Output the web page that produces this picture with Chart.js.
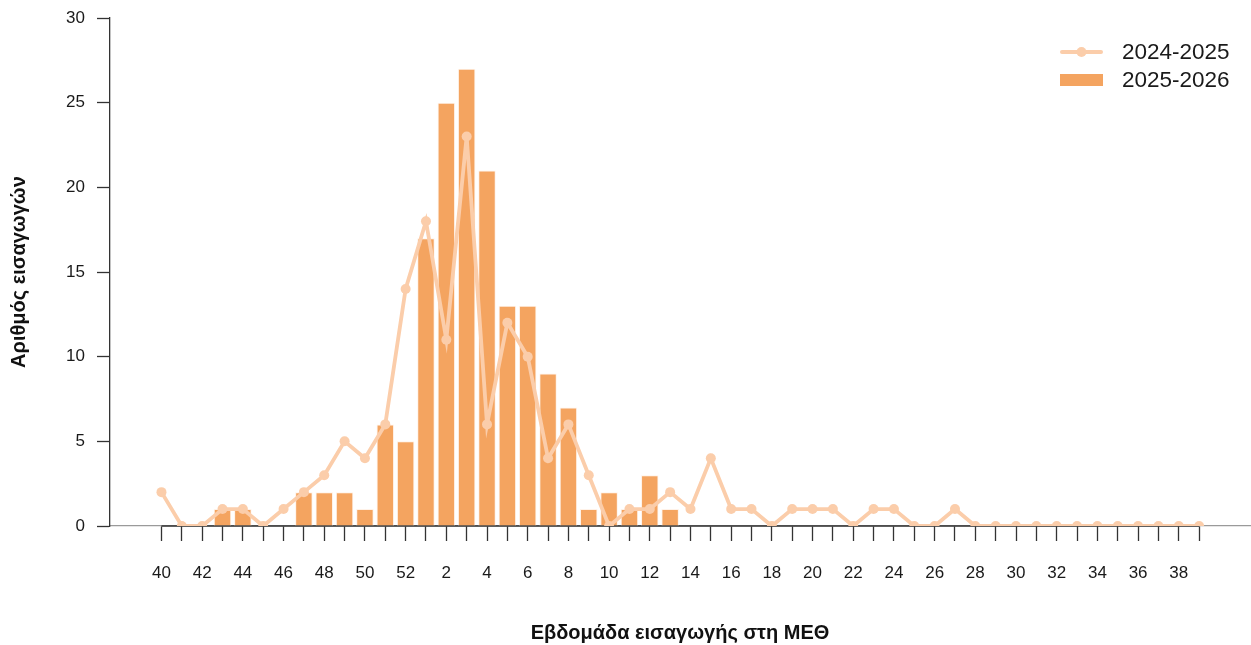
<!DOCTYPE html>
<html>
<head>
<meta charset="utf-8">
<script src="https://cdn.jsdelivr.net/npm/chart.js@4/dist/chart.umd.min.js"></script>
<style>
html,body{margin:0;padding:0;background:#fff;}
#wrap{width:1251px;height:645px;}
</style>
</head>
<body>
<div id="wrap"><canvas id="c" width="1251" height="645"></canvas></div>
<script>
// ---- data ----
const weeks = [40,41,42,43,44,45,46,47,48,49,50,51,52,
  1,2,3,4,5,6,7,8,9,10,11,12,13,14,15,16,17,18,19,20,21,22,23,24,25,26,27,28,29,30,31,32,33,34,35,36,37,38,39];
const tickLabels = weeks.map(w => (w % 2 === 0 ? String(w) : ''));
const season2425 = [2,0,0,1,1,0,1,2,3,5,4,6,14,
  18,11,23,6,12,10,4,6,3,0,1,1,2,1,4,1,1,0,1,1,1,0,1,1,0,0,1,0,0,0,0,0,0,0,0,0,0,0,0];
const season2526 = [0,0,0,1,1,0,0,2,2,2,1,6,5,
  17,25,27,21,13,13,9,7,1,2,1,3,1];
const seriesNames = ['2024-2025', '2025-2026'];
const yTicks = [0,5,10,15,20,25,30];
const xTitle = 'Εβδομάδα εισαγωγής στη ΜΕΘ';
const yTitle = 'Αριθμός εισαγωγών';

// ---- styles ----
const LINE = '#FBCDAA';
const BAR = '#F4A460';
const FONT = "'Liberation Sans', Arial, Helvetica, sans-serif";
Chart.defaults.font.family = FONT;
Chart.defaults.color = '#1a1a1a';

const axisLinePlugin = {
  id: 'axisLine',
  beforeDatasetsDraw(chart) {
    const x = chart.scales.x, y = chart.scales.y, ctx = chart.ctx;
    ctx.save();
    ctx.strokeStyle = '#333';
    ctx.lineWidth = 1.3;
    ctx.beginPath();
    ctx.moveTo(x.getPixelForValue(0), y.getPixelForValue(0));
    ctx.lineTo(x.getPixelForValue(weeks.length - 1), y.getPixelForValue(0));
    ctx.stroke();
    ctx.restore();
  }
};

const legendPlugin = {
  id: 'customLegend',
  afterDraw(chart) {
    const ctx = chart.ctx;
    const right = chart.chartArea.right;
    const x0 = right - 190, x1 = right - 147, tx = right - 128;
    const y1 = chart.chartArea.top + 34, y2 = chart.chartArea.top + 62;
    ctx.save();
    // line item
    ctx.strokeStyle = LINE; ctx.lineWidth = 4; ctx.lineCap = 'round';
    ctx.beginPath(); ctx.moveTo(x0 + 2, y1); ctx.lineTo(x1 - 2, y1); ctx.stroke();
    ctx.fillStyle = LINE;
    ctx.beginPath(); ctx.arc((x0 + x1) / 2, y1, 5, 0, Math.PI * 2); ctx.fill();
    // bar item
    ctx.fillStyle = BAR;
    ctx.fillRect(x0, y2 - 6, x1 - x0, 12);
    // text
    ctx.fillStyle = '#1a1a1a';
    ctx.font = "22.5px " + FONT;
    ctx.textBaseline = 'middle';
    ctx.textAlign = 'left';
    ctx.fillText(seriesNames[0], tx, y1 + 1);
    ctx.fillText(seriesNames[1], tx, y2 + 1);
    ctx.restore();
  }
};

new Chart(document.getElementById('c'), {
  type: 'bar',
  data: {
    datasets: [
      {
        type: 'line',
        label: seriesNames[0],
        data: season2425.map((v, i) => ({ x: i, y: v })),
        borderColor: LINE,
        backgroundColor: LINE,
        pointBackgroundColor: LINE,
        pointBorderWidth: 0,
        borderWidth: 3.8,
        pointRadius: 5,
        pointHoverRadius: 5,
        tension: 0,
        clip: 0,
        order: 0
      },
      {
        type: 'bar',
        label: seriesNames[1],
        data: season2526.map((v, i) => ({ x: i, y: v })),
        backgroundColor: BAR,
        borderColor: '#FFF2E8',
        borderWidth: ctx => (ctx.raw && ctx.raw.y > 0 ? 1 : 0),
        borderSkipped: 'start',
        barPercentage: 0.86,
        categoryPercentage: 1,
        order: 1
      }
    ]
  },
  options: {
    responsive: false,
    animation: false,
    events: [],
    layout: { autoPadding: false, padding: { top: 18, right: 1, left: 0, bottom: 0 } },
    plugins: { legend: { display: false }, tooltip: { enabled: false } },
    scales: {
      x: {
        type: 'linear',
        position: 'bottom',
        offset: false,
        min: -2.53,
        max: 53.5,
        bounds: 'data',
        afterBuildTicks: s => { s.ticks = weeks.map((w, i) => ({ value: i })); },
        afterFit: s => { s.height = 119; s.paddingLeft = 0; s.paddingRight = 0; },
        ticks: {
          autoSkip: false,
          maxRotation: 0,
          minRotation: 0,
          padding: 22,
          font: { size: 17 },
          color: '#1a1a1a',
          callback: v => tickLabels[Math.round(v)]
        },
        grid: { offset: false, drawOnChartArea: false, drawTicks: true, tickLength: 15, tickColor: '#333', tickWidth: 1.3 },
        border: { display: true, color: '#9a9a9a', width: 1.3 },
        title: {
          display: true,
          text: xTitle,
          font: { size: 20, weight: 'bold' },
          color: '#111',
          padding: { top: 5, bottom: 0 }
        }
      },
      y: {
        type: 'linear',
        min: 0,
        max: 30,
        afterBuildTicks: s => { s.ticks = yTicks.map(v => ({ value: v })); },
        afterFit: s => { s.width = 110; s.paddingTop = 0; s.paddingBottom = 0; },
        ticks: { padding: 12, font: { size: 17 }, color: '#1a1a1a' },
        grid: { drawOnChartArea: false, drawTicks: true, tickLength: 13, tickColor: '#333', tickWidth: 1.3 },
        border: { display: true, color: '#333', width: 1.3 },
        title: {
          display: true,
          text: yTitle,
          font: { size: 20, weight: 'bold' },
          color: '#111',
          padding: { top: 7, bottom: 0 }
        }
      }
    }
  },
  plugins: [axisLinePlugin, legendPlugin]
});
</script>
</body>
</html>
